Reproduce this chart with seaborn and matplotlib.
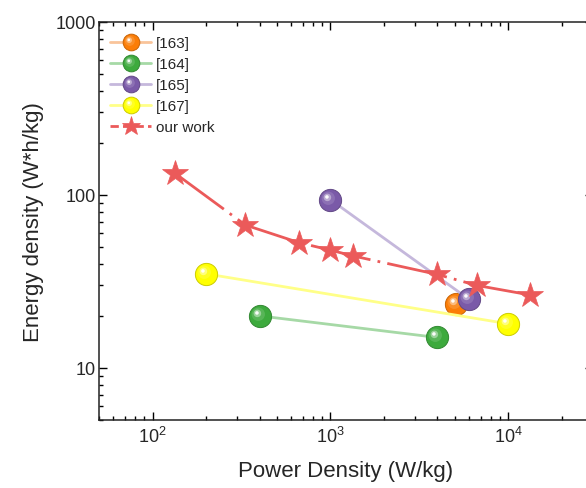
import numpy as np
import matplotlib
matplotlib.use("Agg")
import matplotlib.pyplot as plt
import seaborn as sns
from matplotlib.lines import Line2D
from matplotlib.path import Path
from matplotlib.colors import to_rgb
from matplotlib.legend_handler import HandlerTuple
from matplotlib.ticker import LogLocator, FuncFormatter, NullFormatter

# Ragone data: power density (W/kg) vs energy density (Wh/kg)
ref163_power = [5100]
ref163_energy = [23.3]
ref164_power = [400, 4000]
ref164_energy = [20, 15]
ref165_power = [1000, 6000]
ref165_energy = [94, 25]
ref167_power = [200, 10000]
ref167_energy = [35, 18]
work_power = [133, 333, 667, 1000, 1333, 4000, 6667, 13333]
work_energy = [134, 67, 53, 48, 44.5, 34.7, 30, 26.4]

labels = ["[163]", "[164]", "[165]", "[167]", "our work"]
sphere_colors = ["#fb7d07", "#3daa3d", "#7a5aa8", "#ffff00"]
line_colors = ["#f9c49a", "#a6d9a6", "#c5b8dc", "#ffff88"]
star_color = "#eb5a5a"
work_dash = (0, (22, 2.6, 1, 2.6))

sns.set_style("ticks")
plt.rcParams["font.family"] = ["Liberation Sans", "DejaVu Sans"]
plt.rcParams["mathtext.fontset"] = "custom"
plt.rcParams["mathtext.rm"] = "Liberation Sans"


def blend(c, amount):
    r = np.array(to_rgb(c))
    return tuple(r + (1 - r) * amount)


def shade(c, amount):
    return tuple(np.array(to_rgb(c)) * (1 - amount))


def spot(cx, cy, r):
    """Circle marker placed off-centre, in units of the sphere radius."""
    circ = Path.circle((cx, cy), r)
    verts = np.vstack([[[-1.0, -1.0], [1.0, 1.0]], circ.vertices])
    codes = np.concatenate([[Path.MOVETO, Path.MOVETO], circ.codes])
    return Path(verts, codes)


highlight_layers = [
    (spot(-0.20, 0.20, 0.60), 0.25, 0.55),
    (spot(-0.28, 0.28, 0.34), 0.60, 0.75),
    (spot(-0.32, 0.32, 0.16), 1.00, 0.95),
]

SPHERE = 16.0
STAR = 19.0

fig = plt.figure(figsize=(5.86, 4.89), dpi=100)
ax = fig.add_axes([0.169, 0.139, 0.843, 0.814])

series = [
    (ref163_power, ref163_energy),
    (ref164_power, ref164_energy),
    (ref165_power, ref165_energy),
    (ref167_power, ref167_energy),
]

handles = []
for i, (px, py) in enumerate(series):
    base = sphere_colors[i]
    edge = shade(base, 0.2)
    sns.lineplot(x=px, y=py, ax=ax, color=line_colors[i], lw=2.0,
                 marker="o", markersize=SPHERE, markerfacecolor=base,
                 markeredgecolor=edge, markeredgewidth=0.7,
                 estimator=None, sort=False, legend=False, zorder=2 + i)
    parts = [Line2D([], [], color=line_colors[i], lw=2.0, marker="o",
                    markersize=SPHERE, markerfacecolor=base,
                    markeredgecolor=edge, markeredgewidth=0.7)]
    for path, amt, alpha in highlight_layers:
        ax.plot(px, py, ls="none", marker=path, markersize=SPHERE,
                markerfacecolor=blend(base, amt), markeredgewidth=0,
                alpha=alpha, zorder=2 + i)
        parts.append(Line2D([], [], ls="none", marker=path, markersize=SPHERE,
                            markerfacecolor=blend(base, amt),
                            markeredgewidth=0, alpha=alpha))
    handles.append(tuple(parts))

sns.lineplot(x=work_power, y=work_energy, ax=ax, color=star_color, lw=2.0,
             marker="*", markersize=STAR,
             markerfacecolor=star_color, markeredgecolor=star_color,
             markeredgewidth=0.5, estimator=None, sort=False, legend=False,
             zorder=10)
ax.lines[-1].set_linestyle(work_dash)
handles.append(Line2D([], [], color=star_color, lw=2.0,
                      linestyle=(0, (3, 1.5)), marker="*",
                      markersize=STAR, markerfacecolor=star_color,
                      markeredgecolor=star_color, markeredgewidth=0.5))

ax.set_xscale("log")
ax.set_yscale("log")
ax.set_xlim(50, 30000)
ax.set_ylim(5, 1000)

ax.xaxis.set_major_locator(LogLocator(base=10))
ax.xaxis.set_minor_locator(LogLocator(base=10, subs=np.arange(2, 10)))
ax.yaxis.set_major_locator(LogLocator(base=10))
ax.yaxis.set_minor_locator(LogLocator(base=10, subs=np.arange(2, 10)))
ax.xaxis.set_major_formatter(FuncFormatter(
    lambda v, p: r"$\mathregular{10^{%d}}$" % round(np.log10(v))))
ax.yaxis.set_major_formatter(FuncFormatter(lambda v, p: "%g" % v))
ax.xaxis.set_minor_formatter(NullFormatter())
ax.yaxis.set_minor_formatter(NullFormatter())

ax.tick_params(which="both", direction="in", top=True, right=True,
               bottom=True, left=True, color="black", width=1.0,
               labelsize=13)
ax.tick_params(axis="y", pad=2.5)
ax.tick_params(axis="x", pad=4)
ax.tick_params(which="major", length=5.5)
ax.tick_params(which="minor", length=3)
for s in ax.spines.values():
    s.set_linewidth(1.1)
    s.set_color("#222222")

ax.set_xlabel("Power Density (W/kg)", fontsize=16, labelpad=10)
ax.set_ylabel("Energy density (W*h/kg)", fontsize=16, labelpad=8)

ax.legend(handles, labels, loc="upper left", bbox_to_anchor=(-0.007, 1),
          borderaxespad=0, borderpad=0.95, frameon=False, fontsize=11,
          handlelength=2.7, handletextpad=0.3, labelspacing=0.45,
          markerscale=0.75, numpoints=1,
          handler_map={tuple: HandlerTuple(ndivide=1, pad=0)})

fig.savefig("out.png", dpi=100)
